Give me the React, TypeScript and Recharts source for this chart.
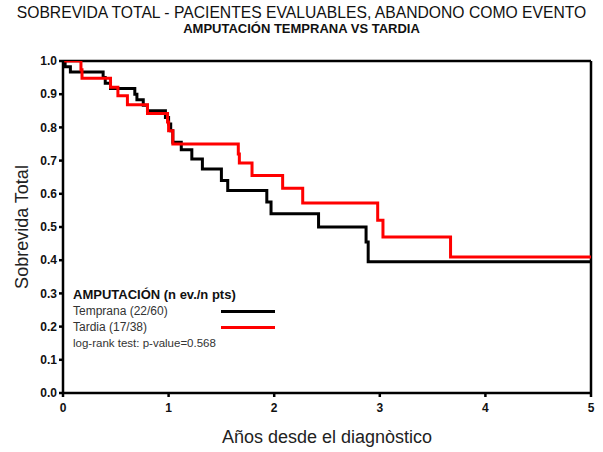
import { LineChart, Line, XAxis, YAxis, ReferenceLine, Legend } from 'recharts';

const tempranaT = [0, 0.02, 0.07, 0.38, 0.4, 0.45, 0.68, 0.7, 0.76, 0.8, 0.97, 1.0, 1.02, 1.04, 1.12, 1.22, 1.32, 1.5, 1.56, 1.93, 1.97, 2.42, 2.87, 2.89, 5];
const tempranaS = [1.0, 0.983, 0.967, 0.95, 0.933, 0.917, 0.9, 0.883, 0.867, 0.85, 0.83, 0.81, 0.79, 0.755, 0.733, 0.705, 0.675, 0.64, 0.61, 0.575, 0.54, 0.5, 0.455, 0.395, 0.395];

const tardiaT = [0, 0.17, 0.18, 0.45, 0.52, 0.61, 0.8, 0.99, 1.0, 1.04, 1.66, 1.67, 1.79, 2.08, 2.27, 2.98, 3.03, 3.67, 5];
const tardiaS = [1.0, 0.974, 0.948, 0.921, 0.895, 0.868, 0.842, 0.816, 0.79, 0.75, 0.72, 0.693, 0.655, 0.617, 0.572, 0.52, 0.47, 0.41, 0.41];

const xTicks = [0, 1, 2, 3, 4, 5];
const yTicks = [0, 0.1, 0.2, 0.3, 0.4, 0.5, 0.6, 0.7, 0.8, 0.9, 1.0];

const groups = [
  { name: 'Temprana (22/60)', color: '#000000' },
  { name: 'Tardia (17/38)', color: '#ff0000' },
];

const temprana = tempranaT.map((t, i) => ({ t, s: tempranaS[i] }));
const tardia = tardiaT.map((t, i) => ({ t, s: tardiaS[i] }));

const font = '"Liberation Sans", Arial, sans-serif';

function LegendBox() {
  return (
    <div style={{ fontFamily: font, color: '#333', lineHeight: '16px' }}>
      <div style={{ fontWeight: 'bold', fontSize: 13, color: '#111' }}>AMPUTACIÓN (n ev./n pts)</div>
      {groups.map((g) => (
        <div key={g.name} style={{ display: 'flex', alignItems: 'center', fontSize: 12 }}>
          <span style={{ width: 148 }}>{g.name}</span>
          <span style={{ width: 54, height: 0, borderTop: `3px solid ${g.color}` }} />
        </div>
      ))}
      <div style={{ fontSize: 11.5 }}>log-rank test: p-value=0.568</div>
    </div>
  );
}

export default function App() {
  return (
    <div style={{ position: 'absolute', left: 0, top: 0, width: 603, height: 452, background: '#fff', fontFamily: font }}>
      <div style={{ position: 'absolute', top: 4, width: 603, textAlign: 'center', fontSize: 15.7, color: '#111' }}>
        SOBREVIDA TOTAL - PACIENTES EVALUABLES, ABANDONO COMO EVENTO
      </div>
      <div style={{ position: 'absolute', top: 21, width: 603, textAlign: 'center', fontSize: 13, fontWeight: 'bold', color: '#111' }}>
        AMPUTACIÓN TEMPRANA VS TARDIA
      </div>
      <LineChart width={603} height={452} margin={{ top: 61, right: 12, left: 13, bottom: 34 }}>
        <XAxis
          dataKey="t"
          type="number"
          domain={[0, 5]}
          ticks={xTicks}
          allowDataOverflow
          height={25}
          stroke="#000"
          strokeWidth={2.5}
          tickSize={4}
          tickMargin={6}
          tick={{ fill: '#111', fontSize: 12, fontWeight: 'bold' }}
          label={{ value: 'Años desde el diagnòstico', position: 'bottom', offset: 12, fontSize: 18, fill: '#222' }}
        />
        <YAxis
          dataKey="s"
          type="number"
          domain={[0, 1]}
          ticks={yTicks}
          allowDataOverflow
          width={50}
          stroke="#000"
          strokeWidth={2.5}
          tickSize={4}
          tickFormatter={(v: number) => v.toFixed(1)}
          tick={{ fill: '#111', fontSize: 12, fontWeight: 'bold' }}
          label={{ value: 'Sobrevida Total', angle: -90, position: 'insideLeft', offset: 9, fontSize: 18, fill: '#222', style: { textAnchor: 'middle' } }}
        />
        <ReferenceLine y={1} stroke="#000" strokeWidth={2.5} />
        <ReferenceLine x={5} stroke="#000" strokeWidth={2.5} />
        <Line data={temprana} dataKey="s" name={groups[0].name} type="stepAfter" stroke={groups[0].color} strokeWidth={3} dot={false} isAnimationActive={false} />
        <Line data={tardia} dataKey="s" name={groups[1].name} type="stepAfter" stroke={groups[1].color} strokeWidth={3} dot={false} isAnimationActive={false} />
        <Legend
          layout="horizontal"
          verticalAlign="middle"
          content={() => <LegendBox />}
          wrapperStyle={{ left: 73, top: 287, width: 220 }}
        />
      </LineChart>
    </div>
  );
}
